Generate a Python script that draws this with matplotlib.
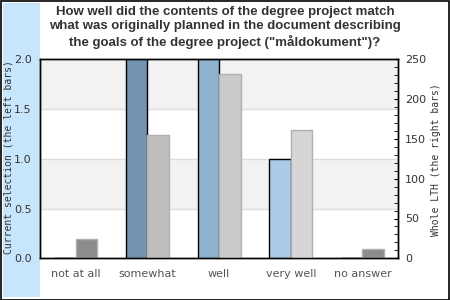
import matplotlib
matplotlib.use("Agg")
import matplotlib.pyplot as plt
from matplotlib.patches import Rectangle
from matplotlib.ticker import MultipleLocator
import numpy as np

categories = ["not at all", "somewhat", "well", "very well", "no answer"]
current_selection = [0, 2, 2, 1, 0]
whole_lth = [24, 155, 232, 161, 12]
left_colors = ["#7394b0", "#7394b0", "#8eb1cd", "#abcce8", "#7394b0"]
right_colors = ["#8c8c8c", "#bebebe", "#cacaca", "#d6d6d6", "#8c8c8c"]
title = ('How well did the contents of the degree project match\n'
         'what was originally planned in the document describing\n'
         'the goals of the degree project ("måldokument")?')
left_label = "Current selection (the left bars)"
right_label = "Whole LTH (the right bars)"

W, H = 450, 300
fig = plt.figure(figsize=(W / 100, H / 100), dpi=100)
fig.patch.set_facecolor("white")

# outer border and light blue strip
fig.patches.append(Rectangle((0.5 / W, 0.5 / H), (W - 1.5) / W, (H - 1.5) / H,
                             transform=fig.transFigure, fill=False,
                             edgecolor="black", linewidth=1.2, zorder=-2))
fig.patches.append(Rectangle((3 / W, 3 / H), 37 / W, (H - 6) / H,
                             transform=fig.transFigure, facecolor="#c8e6fb",
                             edgecolor="none", zorder=-2))

ax = fig.add_axes([40 / W, (H - 258.3) / H, 358.3 / W, 199 / H])
ax.set_facecolor("white")
ax.set_xlim(0, len(categories))
ax.set_ylim(0, 2)

# bands and grid
ax.axhspan(1.5, 2.0, color="#f2f2f2", zorder=0, lw=0)
ax.axhspan(0.5, 1.0, color="#f2f2f2", zorder=0, lw=0)
for y in [0.5, 1.0, 1.5]:
    ax.axhline(y, color="#dddddd", lw=1, zorder=0.5)

x = np.arange(len(categories)) + 0.5
bw = 0.3
ax.bar(x - bw / 2, current_selection, width=bw, color=left_colors,
       edgecolor="black", linewidth=1, zorder=3)

ax.set_xticks(x)
ax.set_xticklabels(categories, fontsize=8, color="#555555")
ax.tick_params(axis="x", length=0, pad=8)
ax.set_yticks([0, 0.5, 1.0, 1.5, 2.0])
ax.set_yticklabels(["0.0", "0.5", "1.0", "1.5", "2.0"], fontsize=8, color="#333333")
ax.tick_params(axis="y", length=0, pad=6)
for s in ax.spines.values():
    s.set_color("black")
    s.set_linewidth(1)

ax2 = ax.twinx()
ax2.set_ylim(0, 250)
ax2.bar(x + bw / 2, whole_lth, width=bw, color=right_colors,
        edgecolor="#b0b0b0", linewidth=1, zorder=2)
ax2.set_yticks([0, 50, 100, 150, 200, 250])
ax2.yaxis.set_minor_locator(MultipleLocator(10))
ax2.tick_params(axis="y", which="major", direction="in", length=3, pad=5,
                labelsize=8, labelcolor="#333333", color="black")
ax2.tick_params(axis="y", which="minor", direction="in", length=3, color="black")
for s in ax2.spines.values():
    s.set_color("black")
    s.set_linewidth(1)

fig.text(8.5 / W, 1 - 157 / H, left_label, rotation=90, ha="center", va="center",
         family="DejaVu Sans Mono", fontsize=7, color="#333333")
fig.text(436 / W, 1 - 160 / H, right_label, rotation=90, ha="center", va="center",
         family="DejaVu Sans Mono", fontsize=7, color="#333333")

fig.text(225 / W, 1 - 27.5 / H, title, ha="center", va="center",
         family="Liberation Sans", fontweight="bold", fontsize=9.5,
         color="#333333", linespacing=1.2)

fig.savefig("out.png", dpi=100)
